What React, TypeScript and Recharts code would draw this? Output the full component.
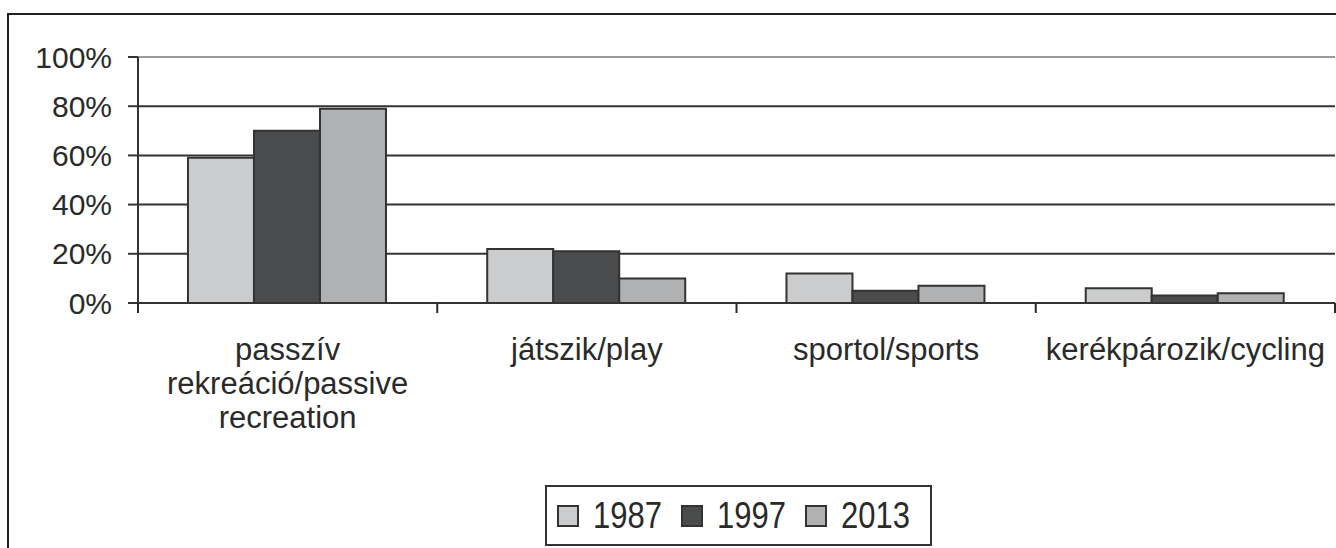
// Szabadidős tevékenységek — oszlopdiagram (1987 / 1997 / 2013)
import React from 'react';
import {
  BarChart,
  Bar,
  XAxis,
  YAxis,
  CartesianGrid,
  ReferenceLine,
  Legend,
} from 'recharts';

const categories = [
  'passzív rekreáció/passive recreation',
  'játszik/play',
  'sportol/sports',
  'kerékpározik/cycling',
];
// sortörések a kategóriacímkékhez
const categoryLines = [
  ['passzív', 'rekreáció/passive', 'recreation'],
  ['játszik/play'],
  ['sportol/sports'],
  ['kerékpározik/cycling'],
];
const years = ['1987', '1997', '2013'];
const values1987 = [59, 22, 12, 6];
const values1997 = [70, 21, 5, 3];
const values2013 = [79, 10, 7, 4];
const yTicks = [0, 20, 40, 60, 80, 100];

const colors = ['#cbcccd', '#4a4b4d', '#b0b1b3'];

const data = categories.map(function (name, i) {
  return { name, y1987: values1987[i], y1997: values1997[i], y2013: values2013[i] };
});

const W = 1336;
const H = 548;
const Y_AXIS_W = 138;
const MARGIN_RIGHT = 1;
const BAND = (W - Y_AXIS_W - MARGIN_RIGHT) / categories.length;
const INK = '#2a2a2a';
const FONT = "'Liberation Sans', Arial, sans-serif";

function CategoryTick({ x, y, index }: any) {
  const lines = categoryLines[index] || [];
  const left = x - BAND / 2;
  const right = x + BAND / 2;
  return (
    <g>
      <line x1={left} x2={left} y1={y} y2={y + 10} stroke={INK} strokeWidth={2} />
      {index === categories.length - 1 && (
        <line x1={right} x2={right} y1={y} y2={y + 10} stroke={INK} strokeWidth={2} />
      )}
      <text x={x} y={y + 57} textAnchor="middle" fill={INK} fontSize={31} fontFamily={FONT}>
        {lines.map(function (l, i) {
          return (
            <tspan key={i} x={x} dy={i === 0 ? 0 : 34}>
              {l}
            </tspan>
          );
        })}
      </text>
    </g>
  );
}

function YearLegend({ payload }: any) {
  return (
    <div
      style={{
        boxSizing: 'border-box',
        width: '100%',
        height: '100%',
        border: '2px solid #333',
        display: 'flex',
        alignItems: 'center',
        paddingLeft: 10,
        background: '#fff',
      }}
    >
      {(payload || []).map(function (p: any, i: number) {
        return (
          <div key={i} style={{ display: 'flex', alignItems: 'center', marginRight: 19 }}>
            <span
              style={{
                boxSizing: 'border-box',
                width: 22,
                height: 22,
                background: p.color,
                border: '2px solid #333',
                marginRight: 14,
              }}
            />
            <span
              style={{
                display: 'inline-block',
                fontFamily: FONT,
                fontSize: 31,
                lineHeight: '31px',
                color: INK,
                transform: 'scaleY(1.22)',
              }}
            >
              {p.value}
            </span>
          </div>
        );
      })}
    </div>
  );
}

export default function App() {
  return (
    <div
      style={{
        position: 'absolute',
        left: 0,
        top: 0,
        width: W,
        height: H,
        overflow: 'hidden',
        background: '#fff',
        fontFamily: FONT,
      }}
    >
      <div
        style={{
          position: 'absolute',
          left: 7,
          top: 13,
          width: 1500,
          height: 800,
          border: '2px solid #222',
        }}
      />
      <div style={{ position: 'absolute', left: 0, top: 0 }}>
        <BarChart
          width={W}
          height={H}
          data={data}
          margin={{ top: 57, right: MARGIN_RIGHT, left: 0, bottom: 0 }}
          barCategoryGap="16.7%"
          barGap={0}
        >
          <CartesianGrid vertical={false} stroke="#333" strokeWidth={2} />
          <ReferenceLine y={100} stroke="#9a9a9a" strokeWidth={2} />
          <XAxis
            dataKey="name"
            height={245}
            interval={0}
            tickSize={0}
            tickMargin={0}
            tickLine={false}
            axisLine={{ stroke: '#333', strokeWidth: 2 }}
            tick={<CategoryTick />}
          />
          <YAxis
            width={Y_AXIS_W}
            domain={[0, 100]}
            ticks={yTicks}
            interval={0}
            tickSize={10}
            tickMargin={16}
            tickFormatter={function (v: number) {
              return v + '%';
            }}
            tickLine={{ stroke: '#333', strokeWidth: 2 }}
            axisLine={{ stroke: '#333', strokeWidth: 2 }}
            tick={{ fill: INK, fontSize: 30, fontFamily: FONT }}
          />
          <Legend
            layout="horizontal"
            verticalAlign="middle"
            align="center"
            content={<YearLegend />}
            wrapperStyle={{ left: 545, top: 485, width: 387, height: 61 }}
          />
          <Bar dataKey="y1987" name={years[0]} fill={colors[0]} stroke="#333" strokeWidth={2} isAnimationActive={false} />
          <Bar dataKey="y1997" name={years[1]} fill={colors[1]} stroke="#333" strokeWidth={2} isAnimationActive={false} />
          <Bar dataKey="y2013" name={years[2]} fill={colors[2]} stroke="#333" strokeWidth={2} isAnimationActive={false} />
        </BarChart>
      </div>
    </div>
  );
}
